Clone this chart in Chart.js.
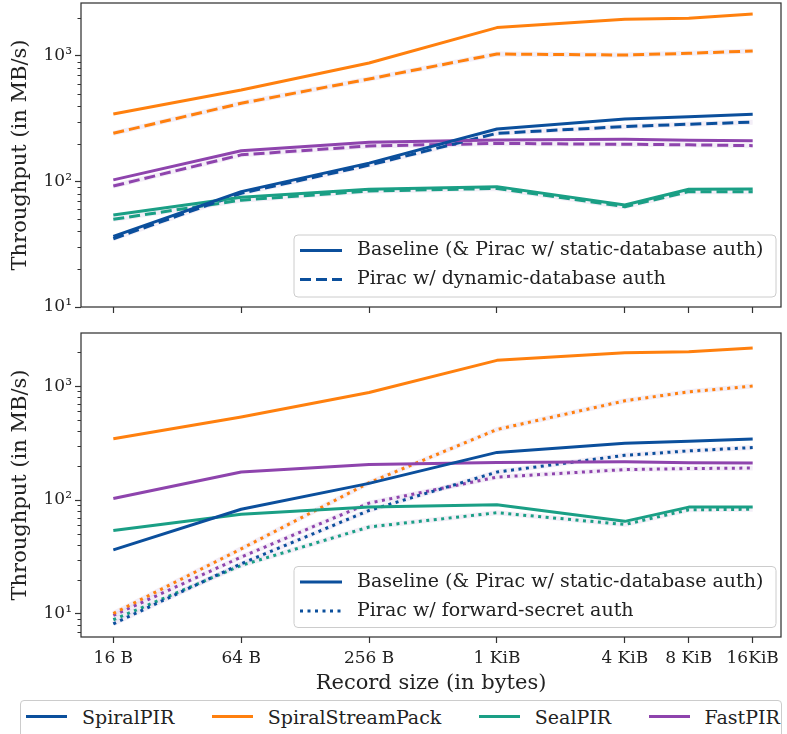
<!DOCTYPE html>
<html>
<head>
<title>PIR throughput vs record size</title>
<script src="https://cdn.jsdelivr.net/npm/chart.js"></script>
<style>
    body {
        margin: 0;
        background: #fff;
        font-family: 'DejaVu Serif', serif;
    }
    #wrap {
        position: relative;
        width: 787px;
        height: 734px;
        overflow: hidden;
    }
    #topChart { position: absolute; left: 0; top: 0; }
    #botChart { position: absolute; left: 0; top: 325px; }
    #legend {
        position: absolute;
        left: 20px;
        top: 700px;
        width: 762px;
        height: 40px;
        box-sizing: border-box;
        border: 1px solid #ccc;
        border-radius: 4px;
        display: flex;
        align-items: flex-start;
        gap: 37.5px;
        padding-left: 5px;
        font-size: 19px;
        color: #222;
    }
    .item { display: flex; align-items: center; height: 31px; }
    .swatch { width: 41px; height: 0; border-top: 3px solid; margin-right: 15px; }
</style>
</head>
<body>
<div id="wrap">
    <canvas id="topChart" width="787" height="322"></canvas>
    <canvas id="botChart" width="787" height="375"></canvas>
    <div id="legend"></div>
</div>

<script>
// record sizes (x) and their tick labels
const sizes = [16, 64, 256, 1024, 4096, 8192, 16384];
const sizeLabels = ['16 B', '64 B', '256 B', '1 KiB', '4 KiB', '8 KiB', '16KiB'];

// y ticks
const yMajor = [10, 100, 1000];
const yTickLabels = ['10\u00b9', '10\u00b2', '10\u00b3'];

const systems = ['SpiralPIR', 'SpiralStreamPack', 'SealPIR', 'FastPIR'];

// throughput in MB/s, baseline (& Pirac w/ static-database auth)
const spiralBase = [36.5, 83, 140, 262, 315, 328, 343];
const streamBase = [345, 536, 880, 1683, 1958, 2000, 2164];
const sealBase = [54, 75, 86.7, 91, 65, 86.7, 87];
const fastBase = [103, 176, 205, 214, 217, 213, 211];

// Pirac w/ dynamic-database auth
const spiralDyn = [35, 80.5, 135, 242, 274, 286, 297];
const streamDyn = [242, 420, 656, 1037, 1018, 1050, 1096];
const sealDyn = [50, 71, 84, 88, 63, 83, 83];
const fastDyn = [92, 163, 192, 201, 198, 196, 193];

// Pirac w/ forward-secret auth
const spiralFs = [8.2, 27.6, 81, 176, 247, 270, 289];
const streamFs = [10.1, 37.3, 142, 416, 743, 891, 1000];
const sealFs = [8.9, 26.7, 58, 77.4, 61, 82, 83];
const fastFs = [9.7, 31.6, 94, 159, 185, 189, 191];

const colors = ['#0b4f9c', '#ff800e', '#1a9f85', '#8e44ad'];
const FONT = "'DejaVu Serif', serif";

function pts(arr) {
    return sizes.map((s, i) => ({ x: s, y: arr[i] }));
}

// frame, minor ticks and the inset style legend
const extras = {
    id: 'extras',
    afterDraw(chart, args, opts) {
        const ctx = chart.ctx;
        const a = chart.chartArea;
        const y = chart.scales.y;
        ctx.save();
        ctx.strokeStyle = '#333';
        ctx.lineWidth = 1;
        for (let d = 0; d < 4; d++) {
            for (let k = 2; k <= 9; k++) {
                const v = k * Math.pow(10, d);
                if (v < y.min || v > y.max) continue;
                const py = Math.round(y.getPixelForValue(v)) + 0.5;
                ctx.beginPath();
                ctx.moveTo(a.left, py);
                ctx.lineTo(a.left - 3.5, py);
                ctx.stroke();
            }
        }
        ctx.lineWidth = 1.25;
        ctx.strokeRect(a.left, a.top, a.right - a.left, a.bottom - a.top);

        // legend box
        const w = 482, h = opts.h;
        const bx = a.right - 5 - w, by = a.bottom - opts.gap - h;
        ctx.beginPath();
        ctx.roundRect(bx, by, w, h, 4);
        ctx.fillStyle = 'rgba(255,255,255,0.8)';
        ctx.fill();
        ctx.strokeStyle = '#cccccc';
        ctx.lineWidth = 1;
        ctx.stroke();
        ctx.font = '19px ' + FONT;
        ctx.textBaseline = 'middle';
        opts.entries.forEach((e, i) => {
            const ly = by + 15.5 + i * 29;
            ctx.strokeStyle = colors[0];
            ctx.lineWidth = 3;
            ctx.setLineDash(e.dash);
            ctx.beginPath();
            ctx.moveTo(bx + 6, ly);
            ctx.lineTo(bx + 48, ly);
            ctx.stroke();
            ctx.setLineDash([]);
            ctx.fillStyle = '#222';
            ctx.fillText(e.label, bx + 63, ly);
        });
        ctx.restore();
    }
};

function makeChart(id, variants, dash, cfg) {
    const datasets = [];
    const bases = [spiralBase, streamBase, sealBase, fastBase];
    systems.forEach((name, i) => {
        datasets.push({
            label: name, data: pts(bases[i]), borderColor: colors[i],
            borderWidth: 3, pointRadius: 0, order: 1
        });
        datasets.push({
            label: name + ' auth', data: pts(variants[i]), borderColor: colors[i],
            borderWidth: 3, borderDash: dash, pointRadius: 0, order: 2
        });
        datasets.push({
            label: name + ' halo', data: pts(variants[i]), borderColor: 'rgba(214,200,230,0.3)',
            borderWidth: 5, pointRadius: 0, order: 5
        });
    });

    return new Chart(document.getElementById(id), {
        type: 'line',
        data: { datasets: datasets },
        options: {
            responsive: false,
            animation: false,
            layout: { padding: { top: cfg.padTop, right: 6, left: 0, bottom: 0 } },
            elements: { line: { tension: 0, borderJoinStyle: 'round', borderCapStyle: 'butt' } },
            plugins: {
                legend: { display: false },
                tooltip: { enabled: false },
                extras: { entries: cfg.entries, h: cfg.legendH, gap: cfg.legendGap }
            },
            scales: {
                x: {
                    type: 'logarithmic',
                    min: 11.27,
                    max: 22270,
                    afterBuildTicks: s => { s.ticks = sizes.map(v => ({ value: v })); },
                    afterFit: s => { s.height = cfg.xHeight; s.paddingLeft = 0; s.paddingRight = 0; },
                    border: { display: false },
                    grid: { drawOnChartArea: false, drawTicks: true, tickLength: 6, color: '#333', tickWidth: 1.2 },
                    ticks: {
                        display: cfg.showX, autoSkip: false, maxRotation: 0, padding: 5,
                        color: '#222', font: { family: FONT, size: 17 },
                        callback: (v, i) => sizeLabels[i]
                    },
                    title: {
                        display: cfg.showX, text: 'Record size (in bytes)', color: '#222',
                        font: { family: FONT, size: 21 }, padding: { top: 0, bottom: 4 }
                    }
                },
                y: {
                    type: 'logarithmic',
                    min: cfg.yMin,
                    max: cfg.yMax,
                    afterBuildTicks: s => {
                        s.ticks = yMajor.filter(v => v >= cfg.yMin && v <= cfg.yMax).map(v => ({ value: v }));
                    },
                    afterFit: s => { s.width = 81; s.paddingTop = 0; s.paddingBottom = 0; },
                    border: { display: false },
                    grid: { drawOnChartArea: false, drawTicks: true, tickLength: 6, color: '#333', tickWidth: 1.2 },
                    ticks: {
                        padding: 3, color: '#222', font: { family: FONT, size: 17 },
                        callback: v => yTickLabels[yMajor.indexOf(v)]
                    },
                    title: {
                        display: true, text: 'Throughput (in MB/s)', color: '#222',
                        font: { family: FONT, size: 21 }, padding: { top: 8, bottom: 0 }
                    }
                }
            }
        },
        plugins: [extras]
    });
}

makeChart('topChart', [spiralDyn, streamDyn, sealDyn, fastDyn], [11, 5], {
    padTop: 3, xHeight: 15, showX: false, yMin: 10, yMax: 2643,
    legendH: 62, legendGap: 10,
    entries: [
        { dash: [], label: 'Baseline (& Pirac w/ static-database auth)' },
        { dash: [11, 5], label: 'Pirac w/ dynamic-database auth' }
    ]
});

makeChart('botChart', [spiralFs, streamFs, sealFs, fastFs], [3, 4.5], {
    padTop: 8, xHeight: 63, showX: true, yMin: 6.28, yMax: 2925,
    legendH: 61, legendGap: 9.5,
    entries: [
        { dash: [], label: 'Baseline (& Pirac w/ static-database auth)' },
        { dash: [3, 4.5], label: 'Pirac w/ forward-secret auth' }
    ]
});

// figure legend
const legend = document.getElementById('legend');
systems.forEach((name, i) => {
    const item = document.createElement('div');
    item.className = 'item';
    item.innerHTML = '<span class="swatch" style="border-color:' + colors[i] + '"></span>' + name;
    legend.appendChild(item);
});
</script>
</body>
</html>
